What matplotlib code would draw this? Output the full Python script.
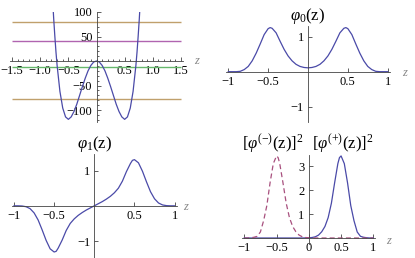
import matplotlib.pyplot as plt
import numpy as np

plt.rcParams['font.family'] = ['Liberation Serif', 'DejaVu Serif']
plt.rcParams['mathtext.fontset'] = 'custom'
plt.rcParams['mathtext.rm'] = 'Liberation Serif'
plt.rcParams['mathtext.it'] = 'Liberation Serif:italic'

W, H = 415, 258

BLUE = '#4a4aa8'
MAGENTA = '#a8507e'
BROWN = '#c0a06c'
PURPLE = '#b064b0'
GREEN = '#66b86c'
AXIS = '#444444'

# potential V(z)
z_pot = [-0.78, -0.76, -0.74, -0.72, -0.70, -0.65, -0.60, -0.55, -0.50, -0.45,
         -0.40, -0.35, -0.30, -0.25, -0.20, -0.15, -0.10, -0.05, 0.0,
         0.05, 0.10, 0.15, 0.20, 0.25, 0.30, 0.35, 0.40, 0.45, 0.50,
         0.55, 0.60, 0.65, 0.70, 0.72, 0.74, 0.76, 0.78]
v_pot = [125, 85, 50, 18, -9, -62, -96, -114, -119, -114,
         -103, -88, -70, -52, -35, -20, -9, -2, 0,
         -2, -9, -20, -35, -52, -70, -88, -103, -114, -119,
         -114, -96, -62, -9, 18, 50, 85, 125]
levels = [80, 41, -12, -78]
level_colors = [BROWN, PURPLE, GREEN, BROWN]

# wave functions on a common grid
z_wave = [-1.0, -0.95, -0.9, -0.85, -0.8, -0.75, -0.7, -0.65, -0.6, -0.55, -0.5,
          -0.475, -0.45, -0.4, -0.35, -0.3, -0.25, -0.2, -0.15, -0.1, -0.05, 0.0,
          0.05, 0.1, 0.15, 0.2, 0.25, 0.3, 0.35, 0.4, 0.45, 0.475,
          0.5, 0.55, 0.6, 0.65, 0.7, 0.75, 0.8, 0.85, 0.9, 0.95, 1.0]
phi0 = [0.0, 0.0, 0.0, 0.01, 0.06, 0.15, 0.31, 0.53, 0.79, 1.06, 1.23,
        1.26, 1.24, 1.11, 0.87, 0.64, 0.45, 0.31, 0.21, 0.15, 0.12, 0.11,
        0.12, 0.15, 0.21, 0.31, 0.45, 0.64, 0.87, 1.11, 1.24, 1.26,
        1.23, 1.06, 0.79, 0.53, 0.31, 0.15, 0.06, 0.01, 0.0, 0.0, 0.0]
phi1 = [0.0, 0.0, -0.005, -0.025, -0.08, -0.20, -0.40, -0.68, -0.98, -1.22, -1.31,
        -1.29, -1.20, -0.97, -0.70, -0.50, -0.37, -0.27, -0.19, -0.12, -0.06, 0.0,
        0.06, 0.12, 0.19, 0.27, 0.37, 0.50, 0.70, 0.97, 1.20, 1.29,
        1.31, 1.22, 0.98, 0.68, 0.40, 0.20, 0.08, 0.025, 0.005, 0.0, 0.0]
plus_sq = [0.0, 0.0, 0.0, 0.0, 0.0, 0.0, 0.0, 0.0, 0.0, 0.0, 0.0,
           0.0, 0.0, 0.0, 0.0, 0.0, 0.0, 0.0, 0.0, 0.0, 0.005, 0.01,
           0.02, 0.05, 0.12, 0.26, 0.48, 0.85, 1.45, 2.3, 3.1, 3.35,
           3.42, 3.1, 2.3, 1.35, 0.72, 0.25, 0.07, 0.03, 0.01, 0.0, 0.0]
minus_sq = [0.0, 0.0, 0.01, 0.03, 0.07, 0.25, 0.72, 1.35, 2.3, 3.1, 3.42,
            3.35, 3.1, 2.3, 1.45, 0.85, 0.48, 0.26, 0.12, 0.05, 0.02, 0.01,
            0.005, 0.0, 0.0, 0.0, 0.0, 0.0, 0.0, 0.0, 0.0, 0.0,
            0.0, 0.0, 0.0, 0.0, 0.0, 0.0, 0.0, 0.0, 0.0, 0.0, 0.0]


def make_axes(fig, xlim, ylim, x_lo, x_hi, y_top, y_bot):
    # pixel edges of the data range -> figure fractions
    ax = fig.add_axes([x_lo / W, 1 - y_bot / H, (x_hi - x_lo) / W, (y_bot - y_top) / H])
    ax.set_xlim(*xlim)
    ax.set_ylim(*ylim)
    ax.patch.set_alpha(0)
    for s in ['top', 'right']:
        ax.spines[s].set_visible(False)
    for s in ['left', 'bottom']:
        ax.spines[s].set_position('zero')
        ax.spines[s].set_color(AXIS)
        ax.spines[s].set_linewidth(0.6)
    ax.tick_params(which='both', direction='in', color=AXIS, width=0.6,
                   labelsize=9, pad=3)
    ax.tick_params(which='major', length=3)
    ax.tick_params(which='minor', length=1.6)
    return ax


def set_ticks(ax, xt, xl, yt, yl):
    ax.set_xticks(xt)
    ax.set_xticklabels(xl)
    ax.set_yticks(yt)
    ax.set_yticklabels(yl)


def zlabel(fig, x, y):
    fig.text(x / W, 1 - y / H, 'z', style='italic', color='#888888',
             fontsize=9, ha='left', va='center')


fig = plt.figure(figsize=(W / 100, H / 100), dpi=100)

# top left: potential with levels
ax1 = make_axes(fig, (-1.53, 1.53), (-124, 101), 10.4, 182.6, 11.5, 121.8)
ax1.hlines(levels, -1.5, 1.5, colors=level_colors, lw=1.0)
ax1.plot(z_pot, v_pot, color=BLUE, lw=0.9)
set_ticks(ax1, [-1.5, -1.0, -0.5, 0.5, 1.0, 1.5],
          ['−1.5', '−1.0', '−0.5', '0.5', '1.0', '1.5'],
          [-100, -50, 50, 100], ['−100', '−50', '50', '100'])
ax1.set_xticks(np.arange(-1.5, 1.51, 0.1), minor=True)
ax1.set_yticks(np.arange(-120, 101, 10), minor=True)
zlabel(fig, 194, 61)

# top right: phi0
ax2 = make_axes(fig, (-1.03, 1.03), (-1.43, 1.3), 225.9, 390.1, 26.2, 121.7)
ax2.plot(z_wave, phi0, color=BLUE, lw=0.9)
set_ticks(ax2, [-1, -0.5, 0.5, 1], ['−1', '−0.5', '0.5', '1'],
          [-1, 1], ['−1', '1'])
ax2.set_title(r'$\varphi_0\mathrm{(z)}$', fontsize=12, pad=1)
zlabel(fig, 402, 73)

# bottom left: phi1
ax3 = make_axes(fig, (-1.03, 1.03), (-1.48, 1.47), 11.6, 177.0, 154.0, 258.0)
ax3.plot(z_wave, phi1, color=BLUE, lw=0.9)
set_ticks(ax3, [-1, -0.5, 0.5, 1], ['−1', '−0.5', '0.5', '1'],
          [-1, 1], ['−1', '1'])
ax3.set_title(r'$\varphi_1\mathrm{(z)}$', fontsize=12, pad=1)
zlabel(fig, 183, 207)

# bottom right: localized densities
ax4 = make_axes(fig, (-1.03, 1.03), (-0.25, 3.48), 242.3, 375.3, 154.5, 244.0)
ax4.plot(z_wave, plus_sq, color=BLUE, lw=0.9)
ax4.plot(z_wave, minus_sq, color=MAGENTA, lw=0.9, ls=(0, (4, 2.5)))
set_ticks(ax4, [-1, -0.5, 0, 0.5, 1], ['−1', '−0.5', '0', '0.5', '1'],
          [1, 2, 3], ['1', '2', '3'])
fig.text(273 / W, 1 - 144 / H, r'$\mathrm{[}\varphi^{(-)}\mathrm{(z)]}^2$',
         fontsize=12, ha='center', va='center')
fig.text(343 / W, 1 - 144 / H, r'$\mathrm{[}\varphi^{(+)}\mathrm{(z)]}^2$',
         fontsize=12, ha='center', va='center')
zlabel(fig, 386, 241)

fig.savefig('out.png', dpi=100)
